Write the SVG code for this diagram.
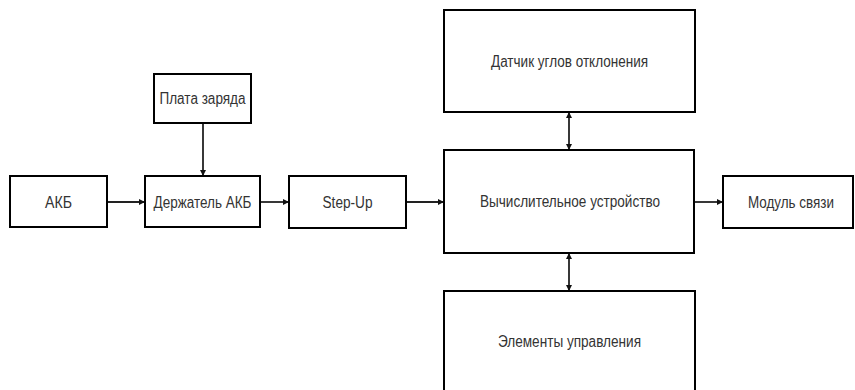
<svg xmlns="http://www.w3.org/2000/svg" width="855" height="390" viewBox="0 0 855 390">
  <style>
    .box { fill: #ffffff; stroke: #000000; stroke-width: 2; }
    .lbl { font-family: "Liberation Sans", Arial, sans-serif; font-size: 16px; fill: #333333; text-anchor: middle; }
    .wire { fill: none; stroke: #222222; stroke-width: 1.8; }
  </style>
  <defs>
    <marker id="arrow" viewBox="0 0 8 8" refX="8" refY="4" markerWidth="3.5" markerHeight="3.5" orient="auto" markerUnits="strokeWidth">
      <path d="M0,0 L8,4 L0,8 z" fill="#111111"/>
    </marker>
    <marker id="arrowStart" viewBox="0 0 8 8" refX="0" refY="4" markerWidth="3.5" markerHeight="3.5" orient="auto" markerUnits="strokeWidth">
      <path d="M8,0 L0,4 L8,8 z" fill="#111111"/>
    </marker>
  </defs>

  <rect width="855" height="390" fill="#ffffff"/>

  <g id="connectors">
    <line class="wire" x1="107" y1="202" x2="145" y2="202" marker-end="url(#arrow)"/>
    <line class="wire" x1="203" y1="123" x2="203" y2="176" marker-end="url(#arrow)"/>
    <line class="wire" x1="260" y1="202" x2="289" y2="202" marker-end="url(#arrow)"/>
    <line class="wire" x1="406" y1="202" x2="444" y2="202" marker-end="url(#arrow)"/>
    <line class="wire" x1="694" y1="202" x2="723" y2="202" marker-end="url(#arrow)"/>
    <line class="wire" x1="569" y1="112" x2="569" y2="150" marker-start="url(#arrowStart)" marker-end="url(#arrow)"/>
    <line class="wire" x1="569" y1="253" x2="569" y2="291" marker-start="url(#arrowStart)" marker-end="url(#arrow)"/>
  </g>

  <g id="akb">
    <rect class="box" x="10" y="176" width="97" height="51"/>
    <text class="lbl" x="58.5" y="208" textLength="27" lengthAdjust="spacingAndGlyphs">АКБ</text>
  </g>

  <g id="plata">
    <rect class="box" x="154" y="74" width="97" height="49"/>
    <text class="lbl" x="202.5" y="104" textLength="86" lengthAdjust="spacingAndGlyphs">Плата заряда</text>
  </g>

  <g id="holder">
    <rect class="box" x="145" y="176" width="115" height="51"/>
    <text class="lbl" x="202.5" y="208" textLength="98" lengthAdjust="spacingAndGlyphs">Держатель АКБ</text>
  </g>

  <g id="stepup">
    <rect class="box" x="289" y="176" width="117" height="52"/>
    <text class="lbl" x="347.5" y="208" textLength="50" lengthAdjust="spacingAndGlyphs">Step-Up</text>
  </g>

  <g id="sensor">
    <rect class="box" x="444" y="10" width="251" height="102"/>
    <text class="lbl" x="569.5" y="67" textLength="157" lengthAdjust="spacingAndGlyphs">Датчик углов отклонения</text>
  </g>

  <g id="cpu">
    <rect class="box" x="444" y="150" width="250" height="103"/>
    <text class="lbl" x="570" y="207" textLength="180" lengthAdjust="spacingAndGlyphs">Вычислительное устройство</text>
  </g>

  <g id="controls">
    <rect class="box" x="444" y="291" width="251" height="102"/>
    <text class="lbl" x="569.5" y="347" textLength="143" lengthAdjust="spacingAndGlyphs">Элементы управления</text>
  </g>

  <g id="comm">
    <rect class="box" x="723" y="176" width="130" height="52"/>
    <text class="lbl" x="791" y="208" textLength="86" lengthAdjust="spacingAndGlyphs">Модуль связи</text>
  </g>
</svg>
